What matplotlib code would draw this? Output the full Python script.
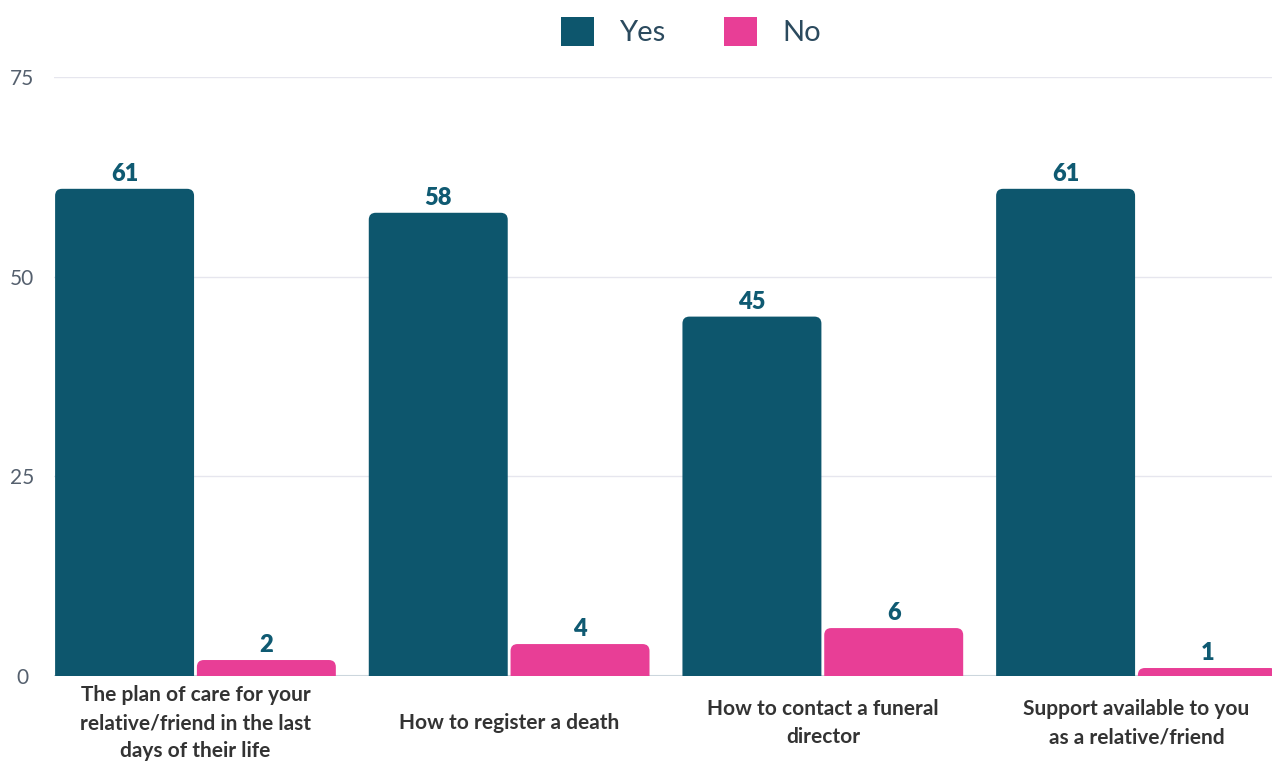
import matplotlib.pyplot as plt
import numpy as np
from matplotlib.path import Path
from matplotlib.patches import PathPatch, Patch

plt.rcParams['font.family'] = ['Lato', 'DejaVu Sans']

# Data
categories = [
    'The plan of care for your\nrelative/friend in the last\ndays of their life',
    'How to register a death',
    'How to contact a funeral\ndirector',
    'Support available to you\nas a relative/friend',
]
yes_counts = [61, 58, 45, 61]
no_counts = [2, 4, 6, 1]

yes_color = '#0d566d'
no_color = '#e83e96'

fig = plt.figure(figsize=(12.72, 7.65), dpi=100)
ax = fig.add_axes([54 / 1272, 89 / 765, 1 - 54 / 1272, 599 / 765])

x = np.arange(len(categories))
width = 0.443
offset = 0.226

ax.set_xlim(-0.451, 3.432)
ax.set_ylim(0, 75)

# pixel sizes in data units, used for the rounded tops
px_x = (3.432 + 0.451) / (1272 - 54)
px_y = 75 / 599


def rounded_bar(xc, h, color, r_px=7):
    x0, x1 = xc - width / 2, xc + width / 2
    rx = r_px * px_x
    ry = min(r_px * px_y, h)
    verts = [(x0, 0), (x0, h - ry), (x0, h), (x0 + rx, h),
             (x1 - rx, h), (x1, h), (x1, h - ry), (x1, 0), (x0, 0)]
    codes = [Path.MOVETO, Path.LINETO, Path.CURVE3, Path.CURVE3,
             Path.LINETO, Path.CURVE3, Path.CURVE3, Path.LINETO, Path.CLOSEPOLY]
    ax.add_patch(PathPatch(Path(verts, codes), facecolor=color,
                           edgecolor='none', zorder=3))


for i in range(len(categories)):
    for val, dx, col in [(yes_counts[i], -offset, yes_color),
                         (no_counts[i], offset, no_color)]:
        rounded_bar(x[i] + dx, val, col)
        ax.text(x[i] + dx, val + 0.5, str(val), ha='center', va='bottom',
                fontsize=17, fontweight='heavy', color='#0f5a72', zorder=4)

# Axes styling
ax.set_yticks([0, 25, 50, 75])
ax.tick_params(axis='y', length=0, pad=23, labelsize=15, labelcolor='#55606e')
for lbl in ax.get_yticklabels():
    lbl.set_horizontalalignment('center')
ax.set_xticks(x)
ax.set_xticklabels(categories, fontsize=15, fontweight='bold',
                   color='#333333', linespacing=1.5, va='center')
ax.tick_params(axis='x', length=0, pad=34)
for s in ax.spines.values():
    s.set_visible(False)
ax.grid(axis='y', color='#e6e6ee', linewidth=1, zorder=0)
ax.axhline(0, color='#ccd6dd', linewidth=1.5, zorder=2)

# Legend
handles = [Patch(facecolor=yes_color, label='Yes'),
           Patch(facecolor=no_color, label='No')]
fig.legend(handles=handles, loc='upper center', bbox_to_anchor=(0.543, 1.012),
           ncol=2, frameon=False, fontsize=21, handlelength=1.15,
           handleheight=1.15, columnspacing=2.0, handletextpad=0.85,
           labelcolor='#2b4a5e')

plt.savefig('out.png', dpi=100)
